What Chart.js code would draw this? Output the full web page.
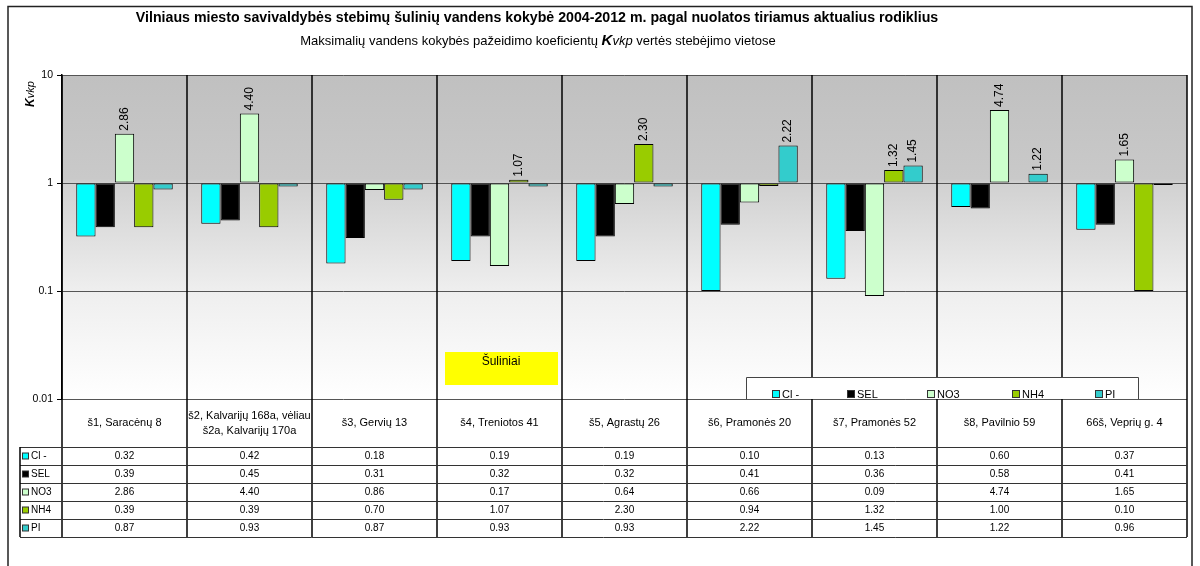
<!DOCTYPE html>
<html><head><meta charset="utf-8">
<script src="https://cdn.jsdelivr.net/npm/chart.js@4.4.1/dist/chart.umd.min.js"></script>
<style>html,body{margin:0;padding:0;background:#fff;}canvas{display:block;}</style>
</head><body>
<canvas id="c" width="1200" height="566" style="width:1200px;height:566px"></canvas>
<script>
// ---- data ----
const categories = [
  ["š1, Saracėnų 8"],
  ["š2, Kalvarijų 168a, vėliau", "š2a, Kalvarijų 170a"],
  ["š3, Gervių 13"],
  ["š4, Treniotos 41"],
  ["š5, Agrastų 26"],
  ["š6, Pramonės 20"],
  ["š7, Pramonės 52"],
  ["š8, Pavilnio 59"],
  ["66š, Veprių g. 4"]
];
const seriesNames = ["Cl -", "SEL", "NO3", "NH4", "PI"];
const valuesCl  = [0.32, 0.42, 0.18, 0.19, 0.19, 0.10, 0.13, 0.60, 0.37];
const valuesSEL = [0.39, 0.45, 0.31, 0.32, 0.32, 0.41, 0.36, 0.58, 0.41];
const valuesNO3 = [2.86, 4.40, 0.86, 0.17, 0.64, 0.66, 0.09, 4.74, 1.65];
const valuesNH4 = [0.39, 0.39, 0.70, 1.07, 2.30, 0.94, 1.32, 1.00, 0.10];
const valuesPI  = [0.87, 0.93, 0.87, 0.93, 0.93, 2.22, 1.45, 1.22, 0.96];
const yTickValues = [0.01, 0.1, 1, 10];
const yTickLabels = ["0.01", "0.1", "1", "10"];
const titleText = "Vilniaus miesto savivaldybės stebimų šulinių vandens kokybė 2004-2012 m. pagal nuolatos tiriamus aktualius rodiklius";
const subtitleParts = [["Maksimalių vandens kokybės pažeidimo koeficientų ", "normal"], ["K", "bold-italic"], ["vkp", "italic"], [" vertės stebėjimo vietose", "normal"]];
const noteText = "Šuliniai";

// ---- styles ----
const seriesValues = [valuesCl, valuesSEL, valuesNO3, valuesNH4, valuesPI];
const seriesColors = ["#00ffff", "#000000", "#ccffcc", "#99cc00", "#33cccc"];
const FONT = "'Liberation Sans', Arial, sans-serif";
const LABEL_ROW_H = 48, ROW_H = 18;

function fmt(v){ return v.toFixed(2); }

const drawPlugin = {
  id: "drawPlugin",
  beforeDraw(chart){
    const {ctx, chartArea:a} = chart;
    ctx.save();
    ctx.fillStyle = "#fff";
    ctx.fillRect(0,0,chart.width,chart.height);
    const g = ctx.createLinearGradient(0,a.top,0,a.bottom);
    g.addColorStop(0, "#c0c0c0");
    g.addColorStop(0.32, "#c9c9c9");
    g.addColorStop(0.335, "#d1d1d1");
    g.addColorStop(0.66, "#eeeeee");
    g.addColorStop(1, "#ffffff");
    ctx.fillStyle = g;
    ctx.fillRect(a.left, a.top, a.right-a.left, a.bottom-a.top);
    ctx.restore();
  },
  beforeDatasetsDraw(chart){
    const {ctx, chartArea:a} = chart;
    const n = categories.length;
    const cw = (a.right - a.left)/n;
    const tableBottom = a.bottom + LABEL_ROW_H + ROW_H*seriesNames.length;
    ctx.save();
    ctx.strokeStyle = "#000";
    ctx.lineWidth = 1.5;
    for(let k=0;k<=n;k++){
      const x = Math.round(a.left + k*cw);
      ctx.beginPath();
      ctx.moveTo(x, a.top);
      ctx.lineTo(x, tableBottom);
      ctx.stroke();
    }
    ctx.restore();
  },
  afterDatasetsDraw(chart){
    const {ctx} = chart;
    ctx.save();
    ctx.fillStyle = "#000";
    ctx.font = "12px " + FONT;
    ctx.textAlign = "left";
    ctx.textBaseline = "middle";
    chart.data.datasets.forEach((ds, di) => {
      const meta = chart.getDatasetMeta(di);
      meta.data.forEach((el, i) => {
        const v = ds.data[i];
        if (v > 1.0001) {
          ctx.save();
          ctx.translate(el.x, el.y - 3);
          ctx.rotate(-Math.PI/2);
          ctx.fillText(fmt(v), 0, 0);
          ctx.restore();
        }
      });
    });
    ctx.restore();
  },
  afterDraw(chart){
    const {ctx, chartArea:a} = chart;
    const xs = chart.scales.x;
    const tableLeft = 20;
    const rowTop = a.bottom + LABEL_ROW_H;
    ctx.save();
    // table horizontal lines
    ctx.strokeStyle = "#333";
    ctx.lineWidth = 1;
    for (let r=0; r<=seriesNames.length; r++){
      const y = Math.round(rowTop + r*ROW_H) + 0.5;
      ctx.beginPath(); ctx.moveTo(tableLeft, y); ctx.lineTo(a.right, y); ctx.stroke();
    }
    ctx.lineWidth = 1.5;
    ctx.strokeStyle = "#000";
    ctx.beginPath(); ctx.moveTo(tableLeft, rowTop); ctx.lineTo(tableLeft, rowTop + ROW_H*seriesNames.length); ctx.stroke();
    // category labels
    ctx.fillStyle = "#000";
    ctx.textAlign = "center";
    ctx.textBaseline = "middle";
    ctx.font = "11px " + FONT;
    categories.forEach((lines, i) => {
      const x = xs.getPixelForValue(i);
      const cy = a.bottom + LABEL_ROW_H/2;
      const lh = 15;
      lines.forEach((ln, j) => {
        ctx.fillText(ln, x, cy + (j - (lines.length-1)/2)*lh);
      });
    });
    // table rows
    ctx.font = "10px " + FONT;
    seriesNames.forEach((name, r) => {
      const cy = rowTop + r*ROW_H + ROW_H/2 + 0.5;
      ctx.fillStyle = seriesColors[r];
      ctx.fillRect(22.5, cy-3.5, 6, 6);
      ctx.strokeStyle = "#333"; ctx.lineWidth = 1;
      ctx.strokeRect(22.5, cy-3.5, 6, 6);
      ctx.fillStyle = "#000";
      ctx.textAlign = "left";
      ctx.fillText(name, 31, cy);
      ctx.textAlign = "center";
      seriesValues[r].forEach((v, i) => {
        ctx.fillText(fmt(v), xs.getPixelForValue(i), cy);
      });
    });
    // legend box
    ctx.fillStyle = "#fff";
    ctx.fillRect(746, 377, 392, 22);
    ctx.strokeStyle = "#444"; ctx.lineWidth = 1;
    ctx.beginPath();
    ctx.moveTo(746.5, 399); ctx.lineTo(746.5, 377.5); ctx.lineTo(1138.5, 377.5); ctx.lineTo(1138.5, 399);
    ctx.stroke();
    const legX = [772, 847, 927, 1012, 1095];
    ctx.font = "11px " + FONT;
    ctx.textAlign = "left";
    seriesNames.forEach((name, r) => {
      ctx.fillStyle = seriesColors[r];
      ctx.fillRect(legX[r]+0.5, 390.5, 7, 7);
      ctx.strokeStyle = "#333";
      ctx.strokeRect(legX[r]+0.5, 390.5, 7, 7);
      ctx.fillStyle = "#000";
      ctx.fillText(name, legX[r]+10, 394.5);
    });
    // note box
    ctx.fillStyle = "#ffff00";
    ctx.fillRect(445, 352, 113, 33);
    ctx.fillStyle = "#000";
    ctx.textAlign = "center";
    ctx.font = "12px " + FONT;
    ctx.fillText(noteText, 501, 362);
    // title
    ctx.font = "bold 14.2px " + FONT;
    ctx.fillText(titleText, 537, 18);
    // subtitle
    const fonts = {"normal": "13px " + FONT, "italic": "italic 13px " + FONT, "bold-italic": "bold italic 15px " + FONT};
    let total = 0;
    subtitleParts.forEach(([t, s]) => { ctx.font = fonts[s]; total += ctx.measureText(t).width; });
    let x0 = 538 - total/2;
    ctx.textAlign = "left";
    ctx.textBaseline = "alphabetic";
    subtitleParts.forEach(([t, s]) => { ctx.font = fonts[s]; ctx.fillText(t, x0, 45); x0 += ctx.measureText(t).width; });
    // y-axis title
    ctx.save();
    ctx.translate(34, 107);
    ctx.rotate(-Math.PI/2);
    ctx.font = "bold italic 12px " + FONT;
    ctx.fillText("K", 0, 0);
    const kw = ctx.measureText("K").width;
    ctx.font = "italic 11px " + FONT;
    ctx.fillText("vkp", kw, 0);
    ctx.restore();
    // outer border
    ctx.strokeStyle = "#222"; ctx.lineWidth = 1.5;
    ctx.strokeRect(8, 6.5, 1184, 620);
    ctx.restore();
  }
};

new Chart(document.getElementById("c"), {
  type: "bar",
  data: {
    labels: categories,
    datasets: seriesNames.map((name, i) => ({
      label: name,
      data: seriesValues[i],
      base: 1,
      backgroundColor: seriesColors[i],
      borderColor: "#000",
      borderWidth: 1,
      borderSkipped: false,
      categoryPercentage: 0.772,
      barPercentage: 1
    }))
  },
  options: {
    responsive: false,
    animation: false,
    devicePixelRatio: 1,
    layout: { padding: { left: 0, right: 13, top: 75, bottom: 0 } },
    plugins: { legend: { display: false }, tooltip: { enabled: false }, title: { display: false } },
    scales: {
      x: {
        type: "category",
        offset: true,
        ticks: { display: false },
        grid: { display: false },
        border: { display: false },
        afterFit: s => { s.height = 167; }
      },
      y: {
        type: "logarithmic",
        min: 0.01, max: 10,
        afterBuildTicks: s => { s.ticks = yTickValues.map(v => ({ value: v })); },
        afterFit: s => { s.width = 62; },
        ticks: {
          callback: (v, i) => yTickLabels[i],
          color: "#000",
          font: { family: FONT, size: 10.5 },
          padding: 4
        },
        grid: { color: "#555", lineWidth: 1, tickLength: 5, tickColor: "#000" },
        border: { color: "#000", width: 1.5 }
      }
    }
  },
  plugins: [drawPlugin]
});
</script>
</body></html>
